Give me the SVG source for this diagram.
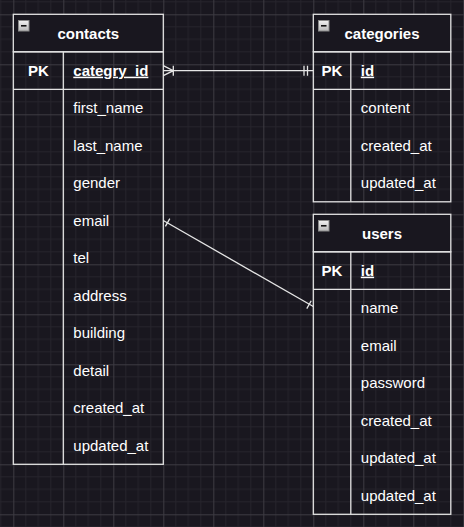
<svg xmlns="http://www.w3.org/2000/svg" width="464" height="527" viewBox="0 0 464 527">
<defs>
<pattern id="grid" patternUnits="userSpaceOnUse" x="13.3" y="14.3" width="50" height="50">
<path d="M12.5 0V50M25 0V50M37.5 0V50M0 12.5H50M0 25H50M0 37.5H50" stroke="#26242c" stroke-width="1" fill="none"/>
<path d="M0.5 0V50M0 0.5H50" stroke="#3d3b42" stroke-width="1" fill="none"/>
</pattern>
<linearGradient id="btn" x1="0" y1="0" x2="0" y2="1">
<stop offset="0" stop-color="#f2f2f2"/>
<stop offset="1" stop-color="#b8b8b8"/>
</linearGradient>
<g id="minus">
<rect x="0" y="0" width="10.5" height="10.5" fill="url(#btn)" stroke="#8a8a8a" stroke-width="1"/>
<path d="M2.5 5.3H8" stroke="#111" stroke-width="1.6"/>
</g>
</defs>
<style>
.bg{fill:#19171f}
.tbl{fill:none;stroke:#e2e2e2;stroke-width:1.3}
.hdr{fill:#19171f;stroke:#e2e2e2;stroke-width:1.3}
.ln{stroke:#e2e2e2;stroke-width:1.3;fill:none}
.title{font-family:"Liberation Sans",Arial,sans-serif;font-size:15px;font-weight:bold;fill:#ffffff;text-anchor:middle}
.pk{font-family:"Liberation Sans",Arial,sans-serif;font-size:15px;font-weight:bold;fill:#ffffff;text-anchor:middle}
.key{font-family:"Liberation Sans",Arial,sans-serif;font-size:15px;font-weight:bold;fill:#ffffff;text-decoration:underline}
.f{font-family:"Liberation Sans",Arial,sans-serif;font-size:15px;fill:#ffffff}
.con{stroke:#e6e6e6;stroke-width:1.3;fill:none}
</style>
<rect class="bg" x="0" y="0" width="464" height="527"/>
<rect x="0" y="0" width="464" height="527" fill="url(#grid)"/>

<g id="contacts">
<rect class="hdr" x="13.3" y="14.3" width="150" height="37.5"/>
<rect class="tbl" x="13.3" y="51.8" width="150" height="412.5"/>
<path class="ln" d="M13.3 89.3H163.3M63.3 51.8V464.3"/>
<use href="#minus" x="18.5" y="20.5"/>
<text class="title" x="88.3" y="38.8">contacts</text>
<text class="pk" x="38.3" y="75.7">PK</text>
<text class="key" x="73.3" y="75.7">categry_id</text>
<text class="f" x="73.3" y="113.2">first_name</text>
<text class="f" x="73.3" y="150.7">last_name</text>
<text class="f" x="73.3" y="188.2">gender</text>
<text class="f" x="73.3" y="225.7">email</text>
<text class="f" x="73.3" y="263.2">tel</text>
<text class="f" x="73.3" y="300.7">address</text>
<text class="f" x="73.3" y="338.2">building</text>
<text class="f" x="73.3" y="375.7">detail</text>
<text class="f" x="73.3" y="413.2">created_at</text>
<text class="f" x="73.3" y="450.7">updated_at</text>
</g>

<g id="categories">
<rect class="hdr" x="313.3" y="14.3" width="137.5" height="37.5"/>
<rect class="tbl" x="313.3" y="51.8" width="137.5" height="150"/>
<path class="ln" d="M313.3 89.3H450.8M350.8 51.8V201.8"/>
<use href="#minus" x="318.5" y="20.5"/>
<text class="title" x="382" y="38.8">categories</text>
<text class="pk" x="332" y="75.7">PK</text>
<text class="key" x="360.8" y="75.7">id</text>
<text class="f" x="360.8" y="113.2">content</text>
<text class="f" x="360.8" y="150.7">created_at</text>
<text class="f" x="360.8" y="188.2">updated_at</text>
</g>

<g id="users">
<rect class="hdr" x="313.3" y="214.3" width="137.5" height="37.5"/>
<rect class="tbl" x="313.3" y="251.8" width="137.5" height="262.5"/>
<path class="ln" d="M313.3 289.3H450.8M350.8 251.8V514.3"/>
<use href="#minus" x="318.5" y="220.5"/>
<text class="title" x="382" y="238.8">users</text>
<text class="pk" x="332" y="275.7">PK</text>
<text class="key" x="360.8" y="275.7">id</text>
<text class="f" x="360.8" y="313.2">name</text>
<text class="f" x="360.8" y="350.7">email</text>
<text class="f" x="360.8" y="388.2">password</text>
<text class="f" x="360.8" y="425.7">created_at</text>
<text class="f" x="360.8" y="463.2">updated_at</text>
<text class="f" x="360.8" y="500.7">updated_at</text>
</g>

<g id="connectors">
<path class="con" d="M163.3 70.7H313.3"/>
<path class="con" d="M163.3 65.7L173.3 70.7L163.3 75.7M173.3 65.7V75.7"/>
<path class="con" d="M304 65.7V75.7M307.5 65.7V75.7"/>
<path class="con" d="M163.3 220.5L313.3 306.5"/>
<path class="con" d="M169.8 218.6L165.4 226.4M311.2 300.8L306.8 308.6"/>
</g>
</svg>
